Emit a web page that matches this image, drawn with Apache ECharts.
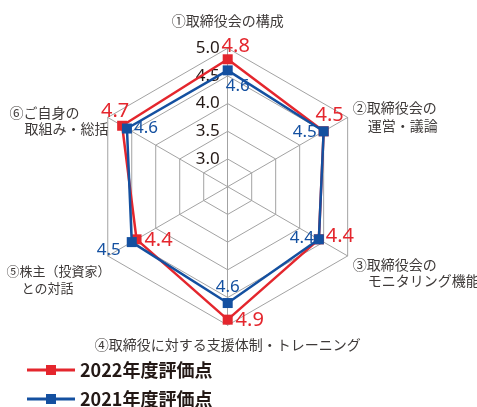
<!DOCTYPE html>
<html>
<head>
<meta charset="utf-8">
<script src="https://cdn.jsdelivr.net/npm/echarts@6/dist/echarts.min.js"></script>
<style>
  html, body { margin: 0; padding: 0; background: #fff; }
  #chart { width: 477px; height: 407px; }
</style>
</head>
<body>
<div id="chart"></div>
<script>
  // data
  const axisNames = [
    '①取締役会の構成',
    '②取締役会の\n運営・議論',
    '③取締役会の\nモニタリング機能',
    '④取締役に対する支援体制・トレーニング',
    '⑤株主（投資家）\nとの対話',
    '⑥ご自身の\n取組み・総括'
  ]
  const scores2022 = [4.8, 4.5, 4.4, 4.9, 4.4, 4.7]
  const scores2021 = [4.6, 4.5, 4.4, 4.6, 4.5, 4.6]
  const seriesNames = ['2022年度評価点', '2021年度評価点']
  const scaleMin = 2.5
  const scaleMax = 5.0

  const RED = '#e4262d'
  const BLUE = '#1450a0'
  const GRID = '#a3a3a3'
  const jpFont = "'Noto Sans CJK JP', sans-serif"
  const numFont = "'Noto Sans', sans-serif"

  // radar goes counterclockwise from the top, the picture goes clockwise
  const order = [0, 5, 4, 3, 2, 1]
  const reorder = arr => order.map(i => arr[i])

  // value label offsets from the marker [dx, dy], by original axis index
  const offs2022 = [[8, -13], [6, -16], [21, -3], [22, 1], [22, 1], [-7, -14]]
  const offs2021 = [[10, 16], [-19, 1], [-17, -1], [0, -16], [-23, 8], [19, 0]]

  function padOf(d) {
    const dx = d[0], dy = d[1]
    return [Math.max(0, 2 * dy), Math.max(0, -2 * dx), Math.max(0, -2 * dy), Math.max(0, 2 * dx)]
  }

  function valueLabel(color, size, offs) {
    const rich = {}
    order.forEach((o, k) => {
      rich['d' + k] = { color: color, fontSize: size, fontFamily: numFont, padding: padOf(offs[o]) }
    })
    return {
      show: true,
      position: 'inside',
      formatter: p => '{d' + p.dimensionIndex + '|' + Number(p.value).toFixed(1) + '}',
      rich: rich
    }
  }

  // axis name tweaks: [line1 padding, line2 padding, font size]
  // second line hangs after the circled number
  const nameTweak = [
    [[2, 0, 15, 0], null, 14],
    [[6, 0, 2, 0], [2, 0, 2, 15], 14],
    [[28, 0, 1, 0], [1, 0, 1, 15], 14],
    [[6, 0, 2, 0], null, 14],
    [[44, -8, 2, 0], [2, 0, 2, 15], 13],
    [[14, 0, 1, 0], [1, -6, 2, 15], 14]
  ]
  const nameRich = {}
  axisNames.forEach((n, i) => {
    const t = nameTweak[i]
    nameRich['a' + i] = { color: '#3e3a39', fontSize: t[2], fontFamily: jpFont, align: 'left', padding: t[0] }
    nameRich['b' + i] = { color: '#3e3a39', fontSize: t[2], fontFamily: jpFont, align: 'left', padding: t[1] || [0, 0, 0, 0] }
  })

  const legendIcon = 'path://M0,3.5 L48,3.5 L48,6.5 L0,6.5 Z M19,0 L29,0 L29,10 L19,10 Z'

  const chart = echarts.init(document.getElementById('chart'))
  chart.setOption({
    backgroundColor: '#fff',
    animation: false,
    legend: {
      orient: 'vertical',
      left: 22,
      top: 356,
      height: 60,
      padding: 5,
      itemWidth: 48,
      itemHeight: 10,
      itemGap: 11,
      itemTextGap: 10,
      data: seriesNames.map(n => ({ name: n, icon: legendIcon })),
      textStyle: { fontSize: 18, color: '#231815', fontFamily: jpFont, fontWeight: 'bold' }
    },
    radar: {
      center: [227.7, 186.7],
      radius: 138.5,
      startAngle: 90,
      splitNumber: 5,
      shape: 'polygon',
      nameGap: 6,
      indicator: order.map(i => {
        const ind = { name: axisNames[i], min: scaleMin, max: scaleMax }
        if (i === 0) ind.axisLabel = { show: true }
        return ind
      }),
      axisName: {
        color: '#3e3a39',
        fontSize: 14,
        fontFamily: jpFont,
        formatter: (name) => {
          const i = axisNames.indexOf(name)
          const parts = name.split('\n')
          return parts.map((t, j) => '{' + (j === 0 ? 'a' : 'b') + i + '|' + t + '}').join('\n')
        },
        rich: nameRich
      },
      axisLine: { lineStyle: { color: GRID, width: 1 } },
      splitLine: { lineStyle: { color: GRID, width: 1 } },
      splitArea: { show: false },
      axisTick: { show: false },
      axisLabel: {
        show: false,
        color: '#231815',
        fontSize: 17,
        fontFamily: numFont,
        margin: 8,
        formatter: v => (v <= scaleMin + 0.01 ? '' : Number(v).toFixed(1))
      }
    },
    series: [
      {
        type: 'radar',
        name: seriesNames[0],
        symbol: 'rect',
        symbolSize: 10,
        z: 2,
        lineStyle: { color: RED, width: 2.5 },
        itemStyle: { color: RED },
        label: valueLabel(RED, 20, offs2022),
        data: [{ name: seriesNames[0], value: reorder(scores2022) }]
      },
      {
        type: 'radar',
        name: seriesNames[1],
        symbol: 'rect',
        symbolSize: 10,
        z: 3,
        lineStyle: { color: BLUE, width: 2.5 },
        itemStyle: { color: BLUE },
        label: valueLabel(BLUE, 17, offs2021),
        data: [{ name: seriesNames[1], value: reorder(scores2021) }]
      }
    ]
  })
</script>
</body>
</html>
